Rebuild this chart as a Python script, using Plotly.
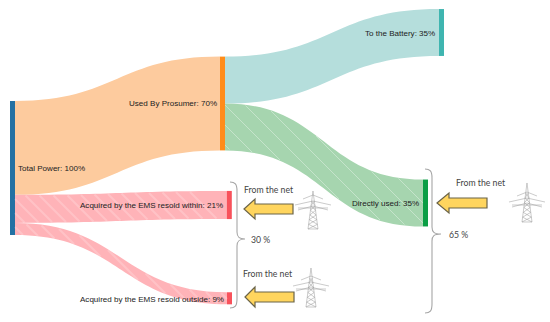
import plotly.graph_objects as go

W, H = 550, 322

# ---- data ----
node_labels = ["Total Power: 100%", "Used By Prosumer: 70%", "To the Battery: 35%",
               "Directly used: 35%", "Acquired by the EMS resold within: 21%",
               "Acquired by the EMS resold outside: 9%"]
link_source = [0, 0, 0, 1, 1]
link_target = [1, 4, 5, 2, 3]
link_value = [70, 21, 9, 35, 35]
brace_labels = ["30 %", "65 %"]
net_label = "From the net"

# ---- styles / positions ----
node_colors = ["#2471A3", "#FF8C1A", "#3FB5B0", "#0A9E45", "#F8525B", "#F8525B"]
link_colors = ["#FDCB9E", "#FFB3B8", "#FFB3B8", "#B5DEDC", "#A6D5AF"]
node_cx = [12.5, 222.5, 441.5, 425.5, 229.3, 229.5]
node_cy = [168, 103.5, 32.5, 203, 205, 298.3]
KY = 1.34
PAD = (H - 100 * KY) / 3

fx = lambda x: x / W
fy = lambda y: 1 - y / H


def path(cmds):
    """Pixel-space path -> paper-space SVG path."""
    out = []
    for c in cmds:
        if isinstance(c, str):
            out.append(c)
        else:
            out.append(f"{fx(c[0]):.5f},{fy(c[1]):.5f}")
    return " ".join(out)


shapes = []


def add(cmds, line="#555", width=1, fill=None):
    s = dict(type="path", xref="paper", yref="paper", path=path(cmds),
             line=dict(color=line, width=width), layer="above")
    if fill:
        s["fillcolor"] = fill
    shapes.append(s)


def arrow(tip, head, right, yc):
    add(["M", (tip, yc), "L", (head, yc - 10), "L", (head, yc - 5), "L", (right, yc - 5),
         "L", (right, yc + 5), "L", (head, yc + 5), "L", (head, yc + 10), "Z"],
        line="#6b6448", width=1.2, fill="#FFD55E")


def tower(cx, top, bot, arm):
    c = "#a0a0a0"
    w = 0.55
    base = 5
    add(["M", (cx, top), "L", (cx - base, bot), "L", (cx + base, bot), "Z"], c, w)
    yy = top + 10
    n = 6
    for i in range(n):
        y0 = yy + (bot - yy) * i / n
        y1 = yy + (bot - yy) * (i + 1) / n
        h0 = base * (y0 - top) / (bot - top)
        h1 = base * (y1 - top) / (bot - top)
        add(["M", (cx - h0, y0), "L", (cx + h1, y1), "M", (cx + h0, y0), "L", (cx - h1, y1)], c, w)
    for dy, half in [(arm - top - 7, 10), (arm - top - 1, 18), (arm - top + 4, 15)]:
        y = top + dy
        add(["M", (cx - half, y + 2), "L", (cx, y - 2), "L", (cx + half, y + 2)], c, w)
    add(["M", (cx - 15, arm + 4), "L", (cx + 15, arm + 4)], c, w)


def brace(xl, xs, xt, top, mid, bot):
    add(["M", (xl, top), "C", (xs - 2, top), (xs, top + 2), (xs, top + 9),
         "L", (xs, mid - 7), "C", (xs, mid - 2), (xs + 2, mid), (xt, mid),
         "C", (xs + 2, mid), (xs, mid + 2), (xs, mid + 7),
         "L", (xs, bot - 9), "C", (xs, bot - 2), (xs - 2, bot), (xl, bot)],
        line="#a6a6a6", width=1.1)


def bez(p0, p1, s):
    m = 1 - s
    return m * m * m * p0 + 3 * m * m * s * p0 + 3 * m * s * s * p1 + s * s * s * p1


def hatch(x0, x1, yt0, yt1, h0, h1, start, stop, step, color, width):
    """White diagonal stripes clipped to a ribbon."""
    xm = (x0 + x1) / 2

    def curve_y(x, a, b):
        lo, hi = 0.0, 1.0
        for _ in range(30):
            s = (lo + hi) / 2
            xv = (1 - s) ** 3 * x0 + 3 * (1 - s) ** 2 * s * xm + 3 * (1 - s) * s * s * xm + s ** 3 * x1
            if xv < x:
                lo = s
            else:
                hi = s
        return bez(a, b, lo)

    c = start
    while c < stop:
        seg = []
        x = x0
        while x <= x1:
            y = x - c
            if curve_y(x, yt0, yt1) + 0.5 <= y <= curve_y(x, yt0 + h0, yt1 + h1) - 0.5:
                seg.append((x, y))
            x += 0.5
        if len(seg) > 1:
            add(["M", seg[0], "L", seg[-1]], color, width)
        c += step


# ribbon stripes
hatch(225, 423, 103.5, 179.5, 46.9, 46.9, -200, 230, 20, "rgba(255,255,255,0.4)", 0.9)
hatch(15, 227, 195, 191, 28.1, 28.1, -240, 10, 14, "rgba(255,255,255,0.2)", 2.2)
hatch(15, 227, 223.3, 292.3, 12.1, 12.1, -240, 10, 14, "rgba(255,255,255,0.2)", 2.2)

# arrows, towers, braces
arrow(244, 255, 293, 209)
arrow(245, 255, 294, 297)
arrow(437, 449, 487, 203)
tower(313, 191, 229, 204)
tower(311, 268, 307, 285)
tower(527, 183, 222, 201)
brace(230, 237, 245, 182, 239, 308)
brace(425, 432, 441, 169, 234, 313)

annotations = []


def label(text, x, y, anchor, family, size, color):
    annotations.append(dict(text=text, xref="paper", yref="paper", x=fx(x), y=fy(y),
                            xanchor=anchor, yanchor="middle", showarrow=False,
                            xshift=0, borderpad=0, borderwidth=0,
                            font=dict(family=family, size=size, color=color)))


SANS = "Liberation Sans"
LS = 8.05
label(node_labels[0], 18, 168, "left", SANS, LS, "#222")
label(node_labels[1], 217, 104, "right", SANS, LS, "#222")
label(node_labels[2], 435, 33, "right", SANS, LS, "#222")
label(node_labels[3], 419, 203, "right", SANS, LS, "#222")
label(node_labels[4], 223, 205, "right", SANS, LS, "#222")
label(node_labels[5], 224, 299, "right", SANS, LS, "#222")
CAL = "Lato"
label(net_label, 269, 189, "center", CAL, 8.7, "#444")
label(net_label, 268, 273, "center", CAL, 8.7, "#444")
label(net_label, 481, 182, "center", CAL, 8.7, "#444")
label(brace_labels[0], 260, 239, "center", CAL, 8.7, "#444")
label(brace_labels[1], 458, 234, "center", CAL, 8.7, "#444")

fig = go.Figure(go.Sankey(
    arrangement="fixed",
    domain=dict(x=[0, 1], y=[0, 1]),
    hoverinfo="skip",
    node=dict(label=[""] * len(node_labels), color=node_colors, thickness=5, pad=PAD,
              line=dict(width=0),
              x=[fx(v) for v in node_cx], y=[v / H for v in node_cy]),
    link=dict(source=link_source, target=link_target, value=link_value, color=link_colors),
))
fig.update_layout(width=W, height=H, margin=dict(l=0, r=0, t=0, b=0),
                  paper_bgcolor="white", shapes=shapes, annotations=annotations,
                  font=dict(family=SANS))
fig.write_html("out.html", config=dict(displayModeBar=False),
               post_script="document.body.style.margin='0';document.documentElement.style.overflow='hidden';")
